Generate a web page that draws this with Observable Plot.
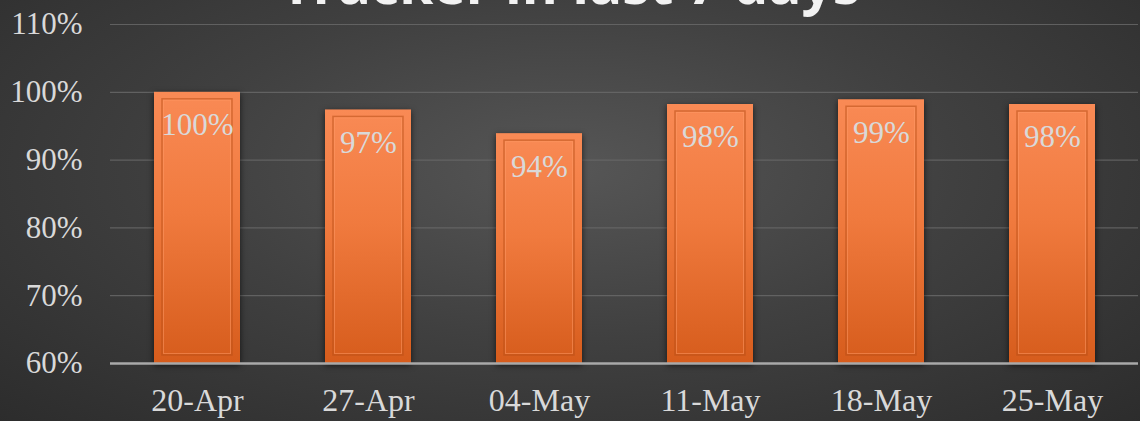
<!DOCTYPE html>
<html>
<head>
<meta charset="utf-8">
<script src="https://cdn.jsdelivr.net/npm/d3@7"></script>
<script src="https://cdn.jsdelivr.net/npm/@observablehq/plot@0.6"></script>
<style>
  html, body { margin: 0; padding: 0; }
  body { width: 1140px; height: 421px; overflow: hidden;
    background: radial-gradient(ellipse 75% 90% at 50% 40%, #565656 0%, #404040 45%, #2a2a2a 100%); }
  #chart svg { display: block; background: transparent; }
  .bars rect { filter: drop-shadow(0px 2px 3px rgba(0,0,0,0.65)); }
</style>
</head>
<body>
<div id="chart"></div>
<script>
const title = "Tracker in last 7 days";
const weeks = ["20-Apr", "27-Apr", "04-May", "11-May", "18-May", "25-May"];
const values = [1.00, 0.974, 0.939, 0.982, 0.989, 0.982];
const yTicks = [0.6, 0.7, 0.8, 0.9, 1.0, 1.1];

const data = weeks.map((w, i) => ({week: w, value: values[i]}));
const pct = d3.format(".0%");
const textColor = "#d9d9d9";

const svg = Plot.plot({
  width: 1140,
  height: 421,
  marginLeft: 110,
  marginRight: 2,
  marginTop: 24,
  marginBottom: 58,
  style: {background: "transparent", color: textColor, fontFamily: "'Liberation Serif', serif", overflow: "hidden"},
  x: {domain: weeks, paddingInner: 0.5, paddingOuter: 0.25, label: null},
  y: {domain: [0.6, 1.1], label: null},
  marks: [
    Plot.gridY(yTicks.slice(1), {stroke: "#6a6a6a", strokeOpacity: 0.8, strokeWidth: 1.2}),
    Plot.barY(data, {x: "week", y1: 0.6, y2: "value", fill: "url(#barGrad)", className: "bars"}),
    Plot.barY(data, {x: "week", y1: 0.6, y2: "value", fill: "none", stroke: "#b84f18", strokeOpacity: 0.55, strokeWidth: 1.5, inset: 8, insetTop: 7, insetBottom: 8}),
    Plot.barY(data, {x: "week", y1: 0.6, y2: "value", fill: "none", stroke: "#ff9a66", strokeOpacity: 0.5, strokeWidth: 1, inset: 9.5, insetTop: 8.5, insetBottom: 9.5}),
    Plot.ruleY([0.6], {stroke: "#a9a9a9", strokeWidth: 2.5}),
    Plot.axisY({ticks: yTicks, tickFormat: pct, tickSize: 0, tickPadding: 28, fontSize: 31, fill: textColor}),
    Plot.axisX({tickSize: 0, tickPadding: 25, fontSize: 32, fill: textColor}),
    Plot.text(data, {x: "week", y: "value", text: d => pct(d.value), dy: 33, lineAnchor: "middle", fontSize: 31, fill: textColor}),
    Plot.text([title], {frameAnchor: "top-left", dx: 460, dy: -21, textAnchor: "middle", lineAnchor: "bottom", fontSize: 55, fontWeight: "bold", fontFamily: "'Open Sans', sans-serif", fill: "#f2f2f2"})
  ]
});

const ns = "http://www.w3.org/2000/svg";
const defs = document.createElementNS(ns, "defs");
defs.innerHTML = `<linearGradient id="barGrad" x1="0" y1="0" x2="0" y2="1" gradientUnits="objectBoundingBox">
  <stop offset="0%" stop-color="#f98a55"/>
  <stop offset="45%" stop-color="#f07a3e"/>
  <stop offset="100%" stop-color="#d65c1c"/>
</linearGradient>`;
svg.insertBefore(defs, svg.firstChild);
document.getElementById("chart").appendChild(svg);
</script>
</body>
</html>
